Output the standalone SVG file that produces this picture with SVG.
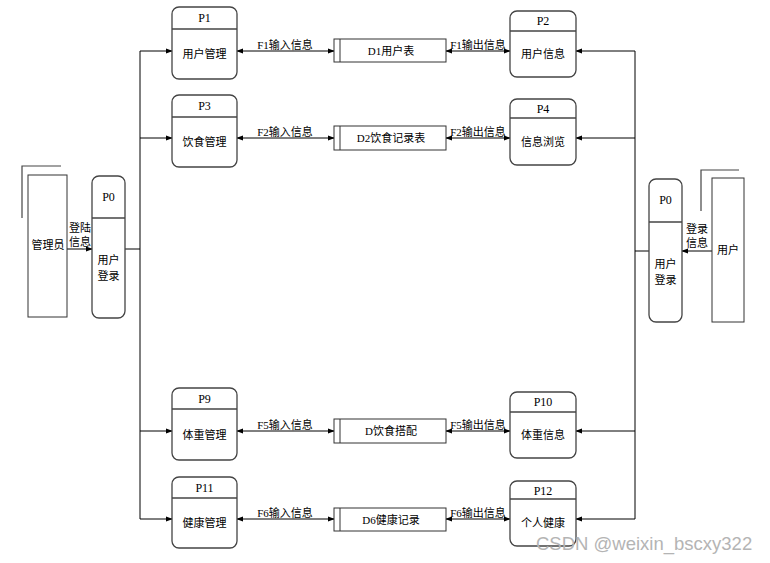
<svg xmlns="http://www.w3.org/2000/svg" width="770" height="563" viewBox="0 0 770 563">
<defs>
<marker id="ah" viewBox="0 0 8 8" refX="7" refY="4" markerWidth="7" markerHeight="7" orient="auto-start-reverse" markerUnits="userSpaceOnUse"><path d="M0,1 L8,4 L0,7 Z" fill="#000"/></marker>
<style>
.p{fill:#fff;stroke:#444;stroke-width:1.3}
.dv{stroke:#444;stroke-width:1.3}
.d{fill:#fff;stroke:#333;stroke-width:1}
.a{fill:#fff;stroke:#333;stroke-width:1}
.br{fill:none;stroke:#444;stroke-width:1.2}
.c{fill:none;stroke:#000;stroke-width:1}
.t{font-family:"Liberation Serif","Noto Sans CJK SC",serif;font-size:11px;fill:#000;text-anchor:middle}
.h{font-family:"Liberation Serif","Noto Sans CJK SC",serif;font-size:12px;fill:#000;text-anchor:middle}
.w{font-family:"Liberation Sans","Noto Sans",sans-serif;font-size:18.5px;fill:#b4b4b4;text-anchor:start}
</style>
</defs>
<rect width="770" height="563" fill="#fff"/>
<g id="connectors">
<line class="c" x1="140" y1="51" x2="140" y2="519"/>
<line class="c" x1="125" y1="249" x2="140" y2="249"/>
<line class="c" x1="140" y1="51" x2="172" y2="51" marker-end="url(#ah)"/>
<line class="c" x1="140" y1="138" x2="172" y2="138" marker-end="url(#ah)"/>
<line class="c" x1="140" y1="431" x2="172" y2="431" marker-end="url(#ah)"/>
<line class="c" x1="140" y1="519" x2="172" y2="519" marker-end="url(#ah)"/>
<line class="c" x1="67" y1="249" x2="92" y2="249" marker-end="url(#ah)"/>
<line class="c" x1="635" y1="51" x2="635" y2="519"/>
<line class="c" x1="635" y1="251" x2="649" y2="251"/>
<line class="c" x1="635" y1="51" x2="576" y2="51" marker-end="url(#ah)"/>
<line class="c" x1="635" y1="138" x2="576" y2="138" marker-end="url(#ah)"/>
<line class="c" x1="635" y1="431" x2="576" y2="431" marker-end="url(#ah)"/>
<line class="c" x1="635" y1="519" x2="576" y2="519" marker-end="url(#ah)"/>
<line class="c" x1="712" y1="251" x2="682" y2="251" marker-end="url(#ah)"/>
<line class="c" x1="237" y1="51" x2="334" y2="51" marker-start="url(#ah)" marker-end="url(#ah)"/>
<line class="c" x1="446" y1="51" x2="510" y2="51" marker-start="url(#ah)" marker-end="url(#ah)"/>
<line class="c" x1="237" y1="138" x2="334" y2="138" marker-start="url(#ah)" marker-end="url(#ah)"/>
<line class="c" x1="446" y1="138" x2="510" y2="138" marker-start="url(#ah)" marker-end="url(#ah)"/>
<line class="c" x1="237" y1="431" x2="334" y2="431" marker-start="url(#ah)" marker-end="url(#ah)"/>
<line class="c" x1="446" y1="431" x2="510" y2="431" marker-start="url(#ah)" marker-end="url(#ah)"/>
<line class="c" x1="237" y1="519" x2="334" y2="519" marker-start="url(#ah)" marker-end="url(#ah)"/>
<line class="c" x1="446" y1="519" x2="510" y2="519" marker-start="url(#ah)" marker-end="url(#ah)"/>
<text class="t" x="80" y="232">登陆</text>
<text class="t" x="80" y="246">信息</text>
<text class="t" x="697" y="233">登录</text>
<text class="t" x="697" y="247">信息</text>
<text class="t" x="285" y="49">F1输入信息</text>
<text class="t" x="478" y="49">F1输出信息</text>
<text class="t" x="285" y="136">F2输入信息</text>
<text class="t" x="478" y="136">F2输出信息</text>
<text class="t" x="285" y="429">F5输入信息</text>
<text class="t" x="478" y="429">F5输出信息</text>
<text class="t" x="285" y="517">F6输入信息</text>
<text class="t" x="478" y="517">F6输出信息</text>
</g>
<g id="admin">
<path class="br" d="M22,218 V166 H61"/>
<rect class="a" x="28" y="175" width="39" height="142"/>
<text class="t" x="48" y="249">管理员</text>
</g>
<g id="user">
<path class="br" d="M701,211 V170 H739"/>
<rect class="a" x="712" y="178" width="32" height="144"/>
<text class="t" x="728" y="254">用户</text>
</g>
<g id="p0-left">
<rect class="p" x="92" y="176" width="33" height="142" rx="7"/>
<line class="dv" x1="92" y1="218" x2="125" y2="218"/>
<text class="h" x="108.5" y="201">P0</text>
<text class="t" x="108.5" y="264">用户</text>
<text class="t" x="108.5" y="280">登录</text>
</g>
<g id="p0-right">
<rect class="p" x="649" y="179" width="33" height="143" rx="7"/>
<line class="dv" x1="649" y1="222" x2="682" y2="222"/>
<text class="h" x="665.5" y="204">P0</text>
<text class="t" x="665.5" y="268">用户</text>
<text class="t" x="665.5" y="284">登录</text>
</g>
<g id="p1">
<rect class="p" x="172" y="7" width="65" height="72" rx="7"/>
<line class="dv" x1="172" y1="29" x2="237" y2="29"/>
<text class="h" x="204.5" y="22">P1</text>
<text class="t" x="204.5" y="58">用户管理</text>
</g>
<g id="p2">
<rect class="p" x="510" y="11" width="66" height="66" rx="7"/>
<line class="dv" x1="510" y1="31" x2="576" y2="31"/>
<text class="h" x="543" y="25">P2</text>
<text class="t" x="543" y="58">用户信息</text>
</g>
<g id="p3">
<rect class="p" x="172" y="95" width="65" height="72" rx="7"/>
<line class="dv" x1="172" y1="117" x2="237" y2="117"/>
<text class="h" x="204.5" y="110">P3</text>
<text class="t" x="204.5" y="146">饮食管理</text>
</g>
<g id="p4">
<rect class="p" x="510" y="99" width="66" height="66" rx="7"/>
<line class="dv" x1="510" y1="118" x2="576" y2="118"/>
<text class="h" x="543" y="113">P4</text>
<text class="t" x="543" y="146">信息浏览</text>
</g>
<g id="p9">
<rect class="p" x="172" y="388" width="65" height="72" rx="7"/>
<line class="dv" x1="172" y1="409" x2="237" y2="409"/>
<text class="h" x="204.5" y="403">P9</text>
<text class="t" x="204.5" y="439">体重管理</text>
</g>
<g id="p10">
<rect class="p" x="510" y="392" width="66" height="66" rx="7"/>
<line class="dv" x1="510" y1="412" x2="576" y2="412"/>
<text class="h" x="543" y="406">P10</text>
<text class="t" x="543" y="439">体重信息</text>
</g>
<g id="p11">
<rect class="p" x="172" y="477" width="65" height="71" rx="7"/>
<line class="dv" x1="172" y1="498" x2="237" y2="498"/>
<text class="h" x="204.5" y="492">P11</text>
<text class="t" x="204.5" y="527">健康管理</text>
</g>
<g id="p12">
<rect class="p" x="510" y="481" width="66" height="65" rx="7"/>
<line class="dv" x1="510" y1="499" x2="576" y2="499"/>
<text class="h" x="543" y="495">P12</text>
<text class="t" x="543" y="527">个人健康</text>
</g>
<g id="d1">
<rect class="d" x="334" y="39" width="112" height="23"/>
<line class="d" x1="340" y1="39" x2="340" y2="62"/>
<text class="t" x="391" y="55">D1用户表</text>
</g>
<g id="d2">
<rect class="d" x="334" y="126" width="112" height="24"/>
<line class="d" x1="340" y1="126" x2="340" y2="150"/>
<text class="t" x="391" y="142">D2饮食记录表</text>
</g>
<g id="d5">
<rect class="d" x="334" y="419" width="112" height="24"/>
<line class="d" x1="340" y1="419" x2="340" y2="443"/>
<text class="t" x="391" y="435">D饮食搭配</text>
</g>
<g id="d6">
<rect class="d" x="334" y="508" width="112" height="23"/>
<line class="d" x1="340" y1="508" x2="340" y2="531"/>
<text class="t" x="391" y="524">D6健康记录</text>
</g>
<text class="w" x="536" y="550">CSDN @weixin_bscxy322</text>
</svg>
